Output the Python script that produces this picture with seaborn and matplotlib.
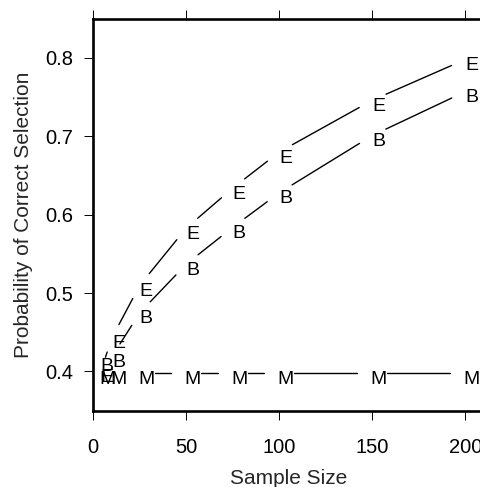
import numpy as np
import pandas as pd
import matplotlib
matplotlib.use("Agg")
import matplotlib.pyplot as plt
import seaborn as sns

# values
sample_size = [4, 10, 25, 50, 75, 100, 150, 200]
prob_E = [0.400, 0.443, 0.510, 0.583, 0.634, 0.680, 0.746, 0.798]
prob_B = [0.414, 0.419, 0.475, 0.537, 0.584, 0.628, 0.701, 0.757]
prob_M = [0.398, 0.398, 0.398, 0.398, 0.398, 0.398, 0.398, 0.398]
series_letters = ["E", "B", "M"]
x_ticks = [0, 50, 100, 150, 200]
y_ticks = [0.4, 0.5, 0.6, 0.7, 0.8]

sns.set_theme(style="ticks")
plt.rcParams["font.family"] = ["Liberation Sans", "DejaVu Sans"]

fig = plt.figure(figsize=(4.81, 4.87), dpi=100)
# axes runs slightly past the right edge of the picture, as in the reference
ax = fig.add_axes([93.3 / 481, 76.3 / 487, (483.9 - 93.3) / 481, 392 / 487])
ax.set_xlim(0, 210)
ax.set_ylim(0.35, 0.85)

# R type="b": segments between points, with a gap around each point
gap = 15  # pixels
rows = []
seg = 0
for letter, vals in zip(series_letters, [prob_E, prob_B, prob_M]):
    pts = ax.transData.transform(np.column_stack([sample_size, vals]))
    for p0, p1 in zip(pts[:-1], pts[1:]):
        d = p1 - p0
        length = np.hypot(*d)
        if length <= 2 * gap:
            continue
        u = d / length
        a, b = ax.transData.inverted().transform([p0 + u * gap, p1 - u * gap])
        rows.append({"x": a[0], "y": a[1], "seg": seg, "series": letter})
        rows.append({"x": b[0], "y": b[1], "seg": seg, "series": letter})
        seg += 1
seg_df = pd.DataFrame(rows)

sns.lineplot(data=seg_df, x="x", y="y", units="seg", estimator=None,
             color="black", linewidth=1.0, sort=False, legend=False, ax=ax)

for letter, vals in zip(series_letters, [prob_E, prob_B, prob_M]):
    for x, y in zip(sample_size, vals):
        ax.annotate(letter, (x, y), xytext=(4.7, -7.7), textcoords="offset points",
                    ha="center", va="baseline", fontsize=14, color="black")

ax.set_xlim(0, 210)
ax.set_ylim(0.35, 0.85)
ax.set_xticks(x_ticks)
ax.set_yticks(y_ticks)
ax.set_yticklabels([f"{v:.1f}" for v in y_ticks])
ax.tick_params(axis="x", top=True, labeltop=False, direction="out",
               length=6.5, width=0.7, pad=13.5, labelsize=14.5, colors="black")
ax.tick_params(axis="y", direction="out", length=6.5, width=0.7, pad=8,
               labelsize=14.5, colors="black")
for side in ["left", "top", "bottom"]:
    ax.spines[side].set_linewidth(1.9)
    ax.spines[side].set_color("black")
ax.spines["right"].set_visible(False)

ax.set_xlabel("Sample Size", fontsize=15, labelpad=8)
ax.set_ylabel("Probability of Correct Selection", fontsize=15, labelpad=9)

fig.savefig("out.png", dpi=100)
